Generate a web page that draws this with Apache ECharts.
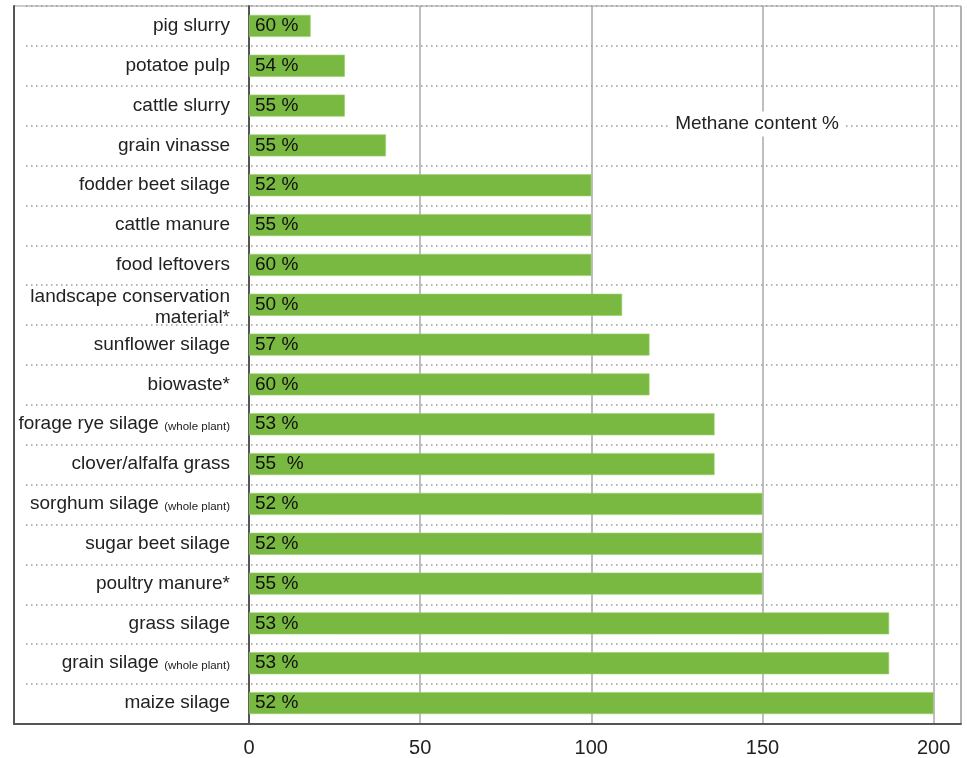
<!DOCTYPE html>
<html>
<head>
<meta charset="utf-8">
<script src="https://cdn.jsdelivr.net/npm/echarts@6/dist/echarts.min.js"></script>
<style>
html,body{margin:0;padding:0;background:#fff;}
#chart{width:967px;height:758px;}
</style>
</head>
<body>
<div id="chart"></div>
<script>
const categories = [
  "pig slurry",
  "potatoe pulp",
  "cattle slurry",
  "grain vinasse",
  "fodder beet silage",
  "cattle manure",
  "food leftovers",
  "landscape conservation\nmaterial*",
  "sunflower silage",
  "biowaste*",
  "forage rye silage (whole plant)",
  "clover/alfalfa grass",
  "sorghum silage (whole plant)",
  "sugar beet silage",
  "poultry manure*",
  "grass silage",
  "grain silage (whole plant)",
  "maize silage"
];
const biogasYield = [18, 28, 28, 40, 100, 100, 100, 109, 117, 117, 136, 136, 150, 150, 150, 187, 187, 200];
const methaneLabels = ["60 %", "54 %", "55 %", "55 %", "52 %", "55 %", "60 %", "50 %", "57 %", "60 %", "53 %", "55  %", "52 %", "52 %", "55 %", "53 %", "53 %", "52 %"];
const xTicks = [0, 50, 100, 150, 200];
const annotation = "Methane content %";

const FONT = "'Liberation Sans', Arial, sans-serif";

const categoryItems = categories.map(c =>
  c.indexOf('\n') >= 0 ? {value: c, textStyle: {padding: [6, 0, 0, 0], lineHeight: 21}} : c
);

const chart = echarts.init(document.getElementById('chart'), null, {renderer: 'canvas'});
chart.setOption({
  animation: false,
  backgroundColor: '#fff',
  grid: [
    {left: 249, right: 6, top: 6, bottom: 34, containLabel: false},
    {left: 14, right: 6, top: 6, bottom: 34, show: true, borderColor: '#999', borderWidth: 1},
    {left: 26, right: 6, top: 6, bottom: 34}
  ],
  xAxis: [
    {
      gridIndex: 0, type: 'value', min: 0, max: 208, interval: 50,
      axisLine: {show: false}, axisTick: {show: false},
      axisLabel: {
        margin: 15, fontSize: 20, color: '#222', fontFamily: FONT,
        formatter: v => xTicks.indexOf(v) >= 0 ? String(v) : ''
      },
      splitLine: {show: true, lineStyle: {color: '#a9a9a9', width: 1.5}}
    },
    {
      gridIndex: 1, type: 'value', min: 0, max: 1, show: true,
      axisLine: {show: true, onZero: false, lineStyle: {color: '#555', width: 2}},
      axisTick: {show: false}, axisLabel: {show: false}, splitLine: {show: false}
    },
    {
      gridIndex: 2, type: 'value', min: 0, max: 1, show: false
    }
  ],
  yAxis: [
    {
      gridIndex: 0, type: 'category', data: categoryItems, inverse: true,
      axisLine: {show: true, lineStyle: {color: '#555', width: 2}},
      axisTick: {show: false},
      splitLine: {show: false},
      axisLabel: {
        margin: 19, fontSize: 19, color: '#222', fontFamily: FONT, align: 'right',
        lineHeight: 22,
        formatter: v => v.replace(' (whole plant)', ' {s|(whole plant)}'),
        rich: {
          s: {fontSize: 11.5, color: '#222', fontFamily: FONT, padding: [5, 0, 0, 0]}
        }
      }
    },
    {
      gridIndex: 1, type: 'category', data: categories, inverse: true,
      axisLine: {show: true, lineStyle: {color: '#555', width: 2}},
      axisTick: {show: false}, axisLabel: {show: false}, splitLine: {show: false}
    },
    {
      gridIndex: 2, type: 'category', data: categories, inverse: true,
      axisLine: {show: false}, axisTick: {show: false}, axisLabel: {show: false},
      splitLine: {show: true, interval: 0, lineStyle: {color: '#9a9a9a', width: 1.5, type: [1.5, 3.5]}}
    }
  ],
  series: [
    {
      type: 'bar', xAxisIndex: 0, yAxisIndex: 0,
      data: biogasYield,
      barWidth: 22,
      itemStyle: {color: '#7ab941', borderColor: '#9ccf6e', borderWidth: 0.6},
      label: {
        show: true, position: 'insideLeft', distance: 6,
        fontSize: 19, color: '#111', fontFamily: FONT,
        formatter: p => methaneLabels[p.dataIndex]
      },
      z: 5
    }
  ],
  graphic: [
    {
      type: 'text', z: 100, x: 757, y: 124,
      style: {
        text: annotation, align: 'center', verticalAlign: 'middle',
        font: "19px 'Liberation Sans', Arial, sans-serif", fill: '#222',
        backgroundColor: '#fff', padding: [3, 6]
      }
    }
  ]
});
</script>
</body>
</html>
